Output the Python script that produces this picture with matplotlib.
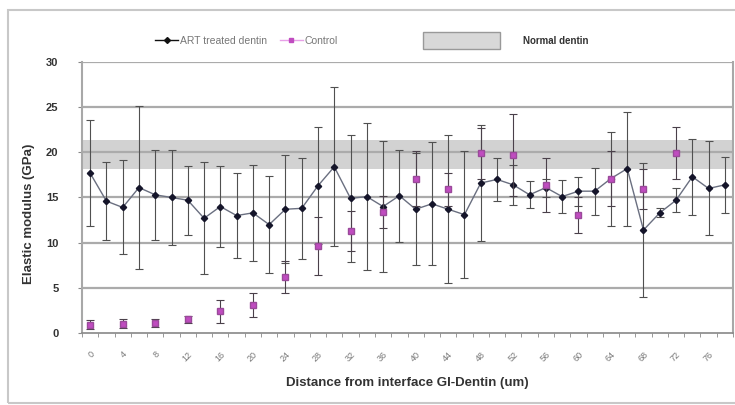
import matplotlib.pyplot as plt
from matplotlib.lines import Line2D
from matplotlib.patches import Rectangle

plt.rcParams['font.family'] = ['Liberation Sans', 'DejaVu Sans']

# distance from interface (um), one point every 2 um
distance = [0, 2, 4, 6, 8, 10, 12, 14, 16, 18, 20, 22, 24, 26, 28, 30, 32, 34, 36, 38,
            40, 42, 44, 46, 48, 50, 52, 54, 56, 58, 60, 62, 64, 66, 68, 70, 72, 74, 76, 78]

# ART treated dentin
art_mean = [17.7, 14.6, 13.9, 16.1, 15.3, 15.0, 14.7, 12.7, 14.0, 13.0,
            13.3, 12.0, 13.7, 13.8, 16.3, 18.4, 14.9, 15.1, 14.0, 15.2,
            13.7, 14.3, 13.7, 13.1, 16.6, 17.0, 16.4, 15.3, 16.1, 15.1,
            15.7, 15.7, 17.1, 18.2, 11.4, 13.3, 14.7, 17.3, 16.0, 16.4]
art_err = [5.9, 4.3, 5.2, 9.0, 5.0, 5.3, 3.8, 6.2, 4.5, 4.7,
           5.3, 5.4, 6.0, 5.6, 6.5, 8.8, 7.0, 8.1, 7.3, 5.1,
           6.2, 6.8, 8.2, 7.0, 6.4, 2.4, 2.2, 1.5, 1.0, 1.8,
           1.6, 2.6, 5.2, 6.3, 7.4, 0.5, 1.3, 4.2, 5.2, 3.1]

# control, every 4 um
control_x = [0, 4, 8, 12, 16, 20, 24, 28, 32, 36, 40, 44, 48, 52, 56, 60, 64, 68, 72]
control_mean = [0.9, 1.0, 1.1, 1.5, 2.4, 3.1, 6.2, 9.6, 11.3, 13.4,
                17.1, 15.9, 19.9, 19.7, 16.4, 13.1, 17.1, 15.9, 19.9]
control_err = [0.5, 0.5, 0.4, 0.4, 1.3, 1.3, 1.8, 3.2, 2.2, 1.8,
               3.0, 1.8, 2.8, 4.5, 3.0, 2.0, 3.0, 2.2, 2.9]

# normal dentin range (GPa)
normal_low, normal_high = 18.2, 21.4

tick_pos = [0, 4, 8, 12, 16, 20, 24, 28, 32, 36, 40, 44, 48, 52, 56, 60, 64, 68, 72, 76]
tick_labels = [str(t) for t in tick_pos]
y_ticks = [0, 5, 10, 15, 20, 25, 30]

W, H = 735, 405
fig = plt.figure(figsize=(W / 100, H / 100), dpi=100)
ax = fig.add_axes([82 / W, 1 - 333 / H, (733 - 82) / W, (333 - 62) / H])

# chart area border
fig.patches.append(Rectangle((8 / W, 1 - 403 / H), 1, (403 - 10) / H, transform=fig.transFigure,
                             fill=False, edgecolor='#c8c8c8', linewidth=1.5))

ax.axhspan(normal_low, normal_high, color='#d2d2d2', zorder=0, lw=0)
for v in y_ticks[1:]:
    ax.axhline(v, color='#ababab', lw=1.6, zorder=0.5)

ax.errorbar(distance, art_mean, yerr=art_err, fmt='-D', color='#6a6f80', lw=1.0,
            mfc='#15152a', mec='#15152a', ms=3.2,
            ecolor='#505050', elinewidth=0.8, capsize=3, capthick=0.8, zorder=3)
ax.errorbar(control_x, control_mean, yerr=control_err, fmt='s', color='#c04cc0',
            mfc='#c04cc0', mec='#9a4a9a', ms=3.8,
            ecolor='#4a404a', elinewidth=0.8, capsize=3, capthick=0.8, zorder=4)

ax.set_xlim(-1, 79)
ax.set_ylim(0, 30)
ax.set_yticks(y_ticks)
ax.set_yticklabels([str(v) for v in y_ticks], fontsize=8, fontweight='bold', color='#333333')
ax.set_xticks(tick_pos)
ax.set_xticklabels(tick_labels, rotation=45, ha='right', rotation_mode='anchor',
                   fontsize=6.5, color='#777777')
ax.tick_params(axis='x', which='major', length=0, pad=12)
ax.set_xticks([d + 1 for d in distance] + [-1], minor=True)
ax.tick_params(axis='x', which='minor', length=3, color='#888888')
ax.tick_params(axis='y', length=3, color='#888888', pad=14)

ax.spines['top'].set_visible(False)
for s in ['left', 'right']:
    ax.spines[s].set_color('#a8a8a8')
    ax.spines[s].set_linewidth(1.5)
ax.spines['bottom'].set_color('#888888')
ax.spines['bottom'].set_linewidth(1.2)

ax.set_xlabel('Distance from interface GI-Dentin (um)', fontsize=9.5, fontweight='bold',
              color='#333333', labelpad=10)
ax.set_ylabel('Elastic modulus (GPa)', fontsize=9.5, fontweight='bold', color='#333333')
ax.yaxis.set_label_coords(-0.072, 0.44)

# legend, placed by hand like the spreadsheet original
handles = [Line2D([], [], color='#111111', marker='D', ms=3, mfc='#111111', lw=1.0),
           Line2D([], [], color='#e8a0e8', marker='s', ms=3.5, mfc='#c04cc0', mec='#c04cc0', lw=1.0)]
leg = fig.legend(handles, ['ART treated dentin', 'Control'], loc='center left',
                 bbox_to_anchor=(150 / W, 1 - 41 / H), ncol=2, frameon=False,
                 fontsize=7.5, handlelength=2.2, handletextpad=0.2, columnspacing=1.2,
                 borderpad=0)
for t in leg.get_texts():
    t.set_color('#777777')
fig.patches.append(Rectangle((423 / W, 1 - 49 / H), 77 / W, 17 / H, transform=fig.transFigure,
                             facecolor='#d8d8d8', edgecolor='#999999', linewidth=1.0))
fig.text(523 / W, 1 - 41 / H, 'Normal dentin', fontsize=7, fontweight='bold',
         color='#333333', va='center', ha='left')

fig.savefig('out.png', dpi=100)
